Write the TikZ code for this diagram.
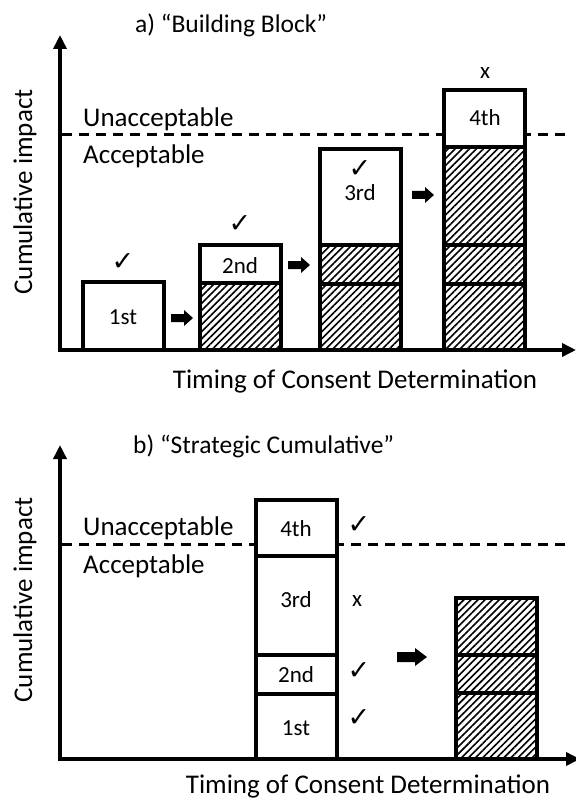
\documentclass[tikz,border=0pt]{standalone}
\usepackage{fontspec}
\setmainfont{Carlito}
\newfontfamily\symfont{DejaVu Sans}
\usetikzlibrary{arrows.meta,patterns.meta}
\begin{document}
\begin{tikzpicture}[x=1pt,y=-1pt,
  axis/.style={line width=4pt,-{Triangle[length=14pt,width=13pt]}},
  limit/.style={line width=3pt,dash pattern=on 10pt off 7pt},
  seg/.style={draw,line width=3.5pt,fill=white,minimum width=81pt,inner sep=0pt,outer sep=0pt,anchor=south west},
  hseg/.style={seg,fill=none,pattern={Lines[angle=45,distance=5pt,line width=1.6pt]}},
  txt/.style={inner sep=0pt,font=\fontsize{27}{32}\selectfont},
  ttl/.style={inner sep=0pt,anchor=base west,font=\fontsize{25.5}{30}\selectfont},
  lbl/.style={inner sep=0pt,font=\fontsize{23}{28}\selectfont},
  chk/.style={inner sep=0pt,font=\symfont\fontsize{27}{32}\selectfont},
  blk/.style={fill=black}
]
\useasboundingbox (0,0) rectangle (575,802);

% ---------- panel a ----------
\node[ttl] (ta) at (135,33) {a) “Building Block”};
\coordinate (da1) at (62,135);
\coordinate (da2) at (566,135);
\draw[limit] (da1) -- (da2);
\node[txt,anchor=base west] (ua) at (83,127) {Unacceptable};
\node[txt,anchor=base west] (aa) at (83,164) {Acceptable};
\node[txt,rotate=90] (ya) at (25,192) {Cumulative impact};

% block 1
\node[seg,minimum height=68pt] (a1) at (83,350) {};
% block 2
\node[hseg,minimum height=67pt] (a2a) at (200,350) {};
\node[seg,minimum height=38pt] (a2b) at (200,283) {};
% block 3
\node[hseg,minimum height=66pt] (a3a) at (320,350) {};
\node[hseg,minimum height=39pt] (a3b) at (320,284) {};
\node[seg,minimum height=96pt] (a3c) at (320,245) {};
% block 4
\node[hseg,minimum height=66pt] (a4a) at (444,350) {};
\node[hseg,minimum height=39pt] (a4b) at (444,284) {};
\node[hseg,minimum height=98pt] (a4c) at (444,245) {};
\node[seg,minimum height=57pt] (a4d) at (444,147) {};

\node[chk] (ca1) at (123,262) {✓};
\node[lbl] (la1) at (123,317) {1st};
\node[chk] (ca2) at (240,224) {✓};
\node[lbl] (la2) at (240,266) {2nd};
\node[chk] (ca3) at (360,169) {✓};
\node[lbl] (la3) at (360,193) {3rd};
\node[lbl] (xa4) at (485,73) {x};
\node[lbl] (la4) at (485,118) {4th};

% block arrows
\coordinate (ar1) at (182,318);
\coordinate (ar2) at (299,265);
\coordinate (ar3) at (423,195);
\foreach \c in {ar1,ar2,ar3}{
  \fill[blk,shift={(\c)}] (-11,-4) -- (2,-4) -- (2,-8) -- (11,0) -- (2,8) -- (2,4) -- (-11,4) -- cycle;
}

\coordinate (oa) at (60,350);
\coordinate (yta) at (60,35);
\coordinate (xs) at (58,350);
\coordinate (xta) at (576,350);
\draw[axis] ([yshift=-2pt]oa) -- (yta);
\draw[axis] (xs) -- (xta);
\node[txt] (xla) at (355,381) {Timing of Consent Determination};

% ---------- panel b ----------
\node[ttl] (tb) at (133,453) {b) “Strategic Cumulative”};
\coordinate (db1) at (62,544);
\coordinate (db2) at (566,544);
\draw[limit] (db1) -- (db2);
\node[txt,anchor=base west] (ub) at (83,535) {Unacceptable};
\node[txt,anchor=base west] (ab) at (83,573) {Acceptable};
\node[txt,rotate=90] (yb) at (25,600) {Cumulative impact};

\node[seg,minimum height=65pt] (b1) at (256,759) {};
\node[seg,minimum height=39pt] (b2) at (256,694) {};
\node[seg,minimum height=99pt] (b3) at (256,655) {};
\node[seg,minimum height=56pt] (b4) at (256,556) {};

\node[lbl] (lb4) at (296,529) {4th};
\node[lbl] (lb3) at (296,600) {3rd};
\node[lbl] (lb2) at (296,675) {2nd};
\node[lbl] (lb1) at (296,728) {1st};
\node[chk] (cb4) at (359,525) {✓};
\node[lbl] (xb3) at (357,601) {x};
\node[chk] (cb2) at (359,671) {✓};
\node[chk] (cb1) at (359,718) {✓};

\coordinate (arb) at (412,657);
\fill[blk,shift={(arb)}] (-15,-5) -- (3,-5) -- (3,-9) -- (15,0) -- (3,9) -- (3,5) -- (-15,5) -- cycle;

\node[hseg,minimum height=66pt] (r1) at (456,759) {};
\node[hseg,minimum height=38pt] (r2) at (456,693) {};
\node[hseg,minimum height=57pt] (r3) at (456,655) {};

\coordinate (ob) at (60,759);
\coordinate (ytb) at (60,445);
\coordinate (xsb) at (58,759);
\coordinate (xtb) at (580,759);
\draw[axis] ([yshift=-2pt]ob) -- (ytb);
\draw[axis] (xsb) -- (xtb);
\node[txt] (xlb) at (368,786) {Timing of Consent Determination};
\end{tikzpicture}
\end{document}
